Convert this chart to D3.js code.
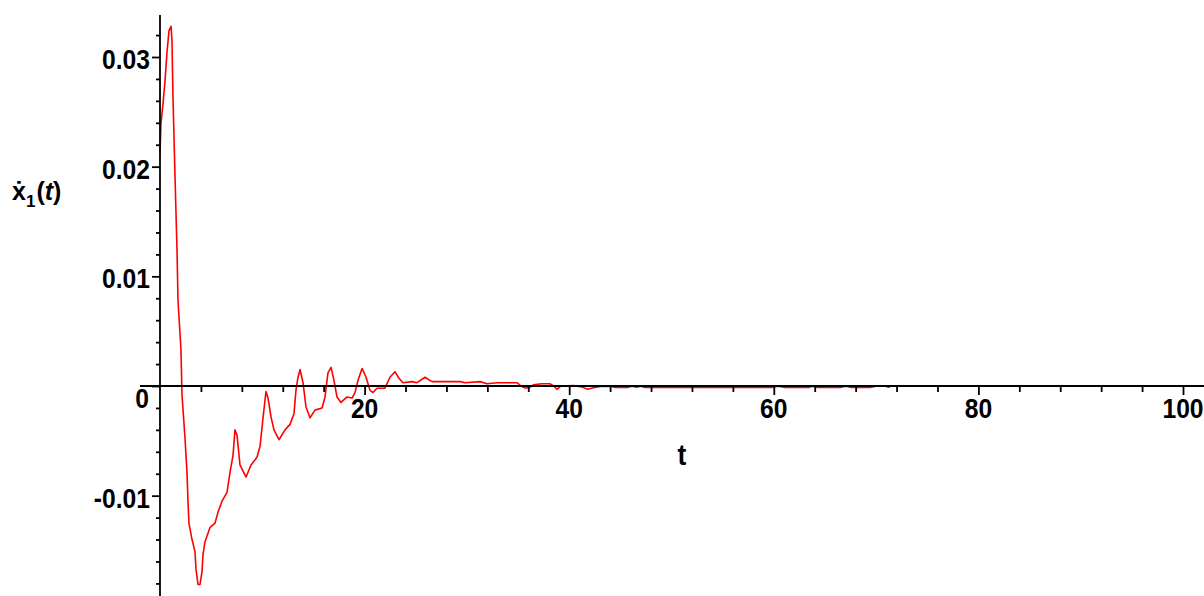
<!DOCTYPE html>
<html>
<head>
<meta charset="utf-8">
<script src="https://cdn.jsdelivr.net/npm/d3@7"></script>
<style>
  html, body { margin: 0; padding: 0; background: #fff; }
  svg { display: block; }
</style>
</head>
<body>
<svg id="chart" width="1204" height="596"></svg>
<script>
// ---- data ----
const tValues = [
  0, 0.1, 0.29, 0.49, 0.68, 0.88, 1.08, 1.17, 1.27, 1.47, 1.66, 1.76, 2.05, 2.15,
  2.44, 2.64, 2.74, 2.83, 3.13, 3.42, 3.52, 3.71, 3.91, 4.11, 4.20, 4.40, 4.89,
  5.38, 5.67, 6.06, 6.55, 6.84, 7.14, 7.33, 7.53, 7.82, 8.41, 8.90, 9.48, 9.78,
  10.07, 10.36, 10.56, 10.85, 11.14, 11.63, 12.22, 12.71, 13.10, 13.29, 13.49,
  13.69, 13.98, 14.27, 14.66, 15.15, 15.84, 16.13, 16.42, 16.72, 17.01, 17.30,
  17.69, 18.28, 18.77, 19.06, 19.35, 19.75, 20.14, 20.53, 20.82, 21.21, 21.99,
  22.48, 22.97, 23.36, 23.75, 24.63, 25.12, 25.90, 26.59, 27.37, 29.33, 29.81,
  31.28, 31.96, 32.94, 34.90, 35.3, 35.7, 36.1, 36.5, 37.3, 38.1, 38.5, 38.8,
  39.2, 40.5, 41.2, 41.8, 42.5, 43.2, 44.0, 44.5, 45.7, 46.1, 46.6, 47.0, 47.4,
  49.1, 49.15, 49.2, 59.8, 60.4, 61.1, 63.4, 63.8, 64.3, 66.5, 67.0, 67.6, 69.4,
  70.0, 71.0, 71.2, 71.4, 75, 100
];
const xdotValues = [
  0.0212, 0.0240, 0.0257, 0.0278, 0.0304, 0.0324, 0.0328, 0.0315, 0.0263, 0.0190,
  0.0125, 0.0078, 0.0033, -0.0008, -0.0047, -0.0079, -0.0106, -0.0125, -0.0140,
  -0.0151, -0.0167, -0.0181, -0.0181, -0.0169, -0.0154, -0.0142, -0.0129, -0.0125,
  -0.0115, -0.0105, -0.0097, -0.0079, -0.0063, -0.0040, -0.0045, -0.0072, -0.0083,
  -0.0072, -0.0065, -0.0055, -0.0029, -0.0005, -0.0011, -0.0028, -0.0040, -0.0049,
  -0.0040, -0.0035, -0.0025, -0.0004, 0.0008, 0.0015, 0.0003, -0.0019, -0.0029,
  -0.0022, -0.0020, -0.0010, 0.0012, 0.0017, 0.0005, -0.0010, -0.0015, -0.0010,
  -0.0011, -0.0006, 0.0005, 0.0016, 0.0008, -0.0004, -0.0006, -0.0002, -0.0002,
  0.0008, 0.0013, 0.0007, 0.0003, 0.0004, 0.0003, 0.0008, 0.0004, 0.0004, 0.0004,
  0.0003, 0.0004, 0.0002, 0.0003, 0.0003, 0, -0.00018, -0.00015, 0.0001, 0.0002,
  0.0002, 0, -0.0003, 0, 0.00003, -0.00008, -0.0003, -0.00013, -0.00002, -0.00003,
  -0.00013, -0.00013, -0.00002, -0.00012, -0.00002, -0.00013, -0.00013, -0.00009,
  -0.00013, -0.00013, -0.00002, -0.00013, -0.00013, -0.00002, -0.00013, -0.00013,
  -0.00002, -0.00013, -0.00013, -0.00002, -0.00002, -0.00012, -0.00002, 0, 0
];
const xMajorTicks = [20, 40, 60, 80, 100];
const xMinorTicks = [4, 8, 12, 16, 24, 28, 32, 36, 44, 48, 52, 56, 64, 68, 72, 76, 84, 88, 92, 96];
const yMajorTicks = [-0.01, 0, 0.01, 0.02, 0.03];
const yMinorTicks = [-0.018, -0.016, -0.014, -0.012, -0.008, -0.006, -0.004, -0.002,
  0.002, 0.004, 0.006, 0.008, 0.012, 0.014, 0.016, 0.018, 0.022, 0.024, 0.026, 0.028, 0.032];
const xTickLabels = ["20", "40", "60", "80", "100"];
const yTickLabels = ["-0.01", "0", "0.01", "0.02", "0.03"];

// ---- drawing ----
const svg = d3.select("#chart");
const x = d3.scaleLinear().domain([0, 100]).range([160, 1183]);
const y = d3.scaleLinear().domain([0, 0.03]).range([386, 57]);

const FONT = "'Liberation Sans', Arial, sans-serif";
const AXW = 1.8;

// curve
const data = tValues.map((t, i) => ({ t, v: xdotValues[i] }));
svg.append("path")
  .datum(data)
  .attr("fill", "none")
  .attr("stroke", "#ff0000")
  .attr("stroke-width", 1.6)
  .attr("stroke-linejoin", "round")
  .attr("d", d3.line().x(d => x(d.t)).y(d => y(d.v)));

// x axis
const gx = svg.append("g").attr("transform", `translate(0,${y(0)})`);
gx.append("line").attr("x1", 140).attr("x2", 1204).attr("y1", 0).attr("y2", 0)
  .attr("stroke", "#000").attr("stroke-width", AXW);
gx.append("g").call(d3.axisBottom(x).tickValues(xMajorTicks).tickSize(9).tickFormat(""))
  .call(g => g.select(".domain").remove())
  .selectAll("line").attr("stroke", "#000").attr("stroke-width", AXW);
gx.append("g").call(d3.axisBottom(x).tickValues(xMinorTicks).tickSize(6).tickFormat(""))
  .call(g => g.select(".domain").remove())
  .selectAll("line").attr("stroke", "#000").attr("stroke-width", AXW);

// y axis
const gy = svg.append("g").attr("transform", `translate(${x(0)},0)`);
gy.append("line").attr("x1", 0).attr("x2", 0).attr("y1", 15).attr("y2", 596)
  .attr("stroke", "#000").attr("stroke-width", AXW);
gy.append("g").call(d3.axisLeft(y).tickValues(yMajorTicks).tickSize(8).tickFormat(""))
  .call(g => g.select(".domain").remove())
  .selectAll("line").attr("stroke", "#000").attr("stroke-width", AXW);
gy.append("g").call(d3.axisLeft(y).tickValues(yMinorTicks).tickSize(4).tickFormat(""))
  .call(g => g.select(".domain").remove())
  .selectAll("line").attr("stroke", "#000").attr("stroke-width", AXW);

// tick labels
const sx = 0.88;
svg.append("g").selectAll("text").data(xMajorTicks).join("text")
  .attr("transform", d => `translate(${x(d)},418) scale(${sx},1)`)
  .attr("text-anchor", "middle")
  .attr("font-family", FONT).attr("font-weight", "bold").attr("font-size", 28)
  .text((d, i) => xTickLabels[i]);

svg.append("g").selectAll("text").data(yMajorTicks).join("text")
  .attr("transform", d => d === 0
      ? `translate(149,408) scale(${sx},1)`
      : `translate(150,${y(d) + 12}) scale(${sx},1)`)
  .attr("text-anchor", "end")
  .attr("font-family", FONT).attr("font-weight", "bold").attr("font-size", 28)
  .text((d, i) => yTickLabels[i]);

// axis titles
svg.append("text")
  .attr("transform", `translate(682,465) scale(${sx},1)`)
  .attr("text-anchor", "middle")
  .attr("font-family", FONT).attr("font-weight", "bold").attr("font-size", 30)
  .text("t");

const yl = svg.append("text")
  .attr("x", 12).attr("y", 200)
  .attr("font-family", FONT).attr("font-weight", "bold").attr("font-size", 25);
yl.append("tspan").text("ẋ");
yl.append("tspan").attr("font-size", 17).attr("dy", 7).text("1");
yl.append("tspan").attr("dy", -7).attr("dx", 1).text("(");
yl.append("tspan").attr("font-style", "italic").text("t");
yl.append("tspan").text(")");
</script>
</body>
</html>
